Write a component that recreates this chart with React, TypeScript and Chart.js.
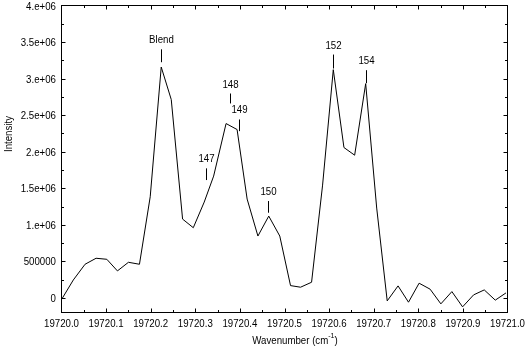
import React, { useEffect, useRef } from "react";
import { Chart, registerables } from "chart.js";

Chart.register(...registerables);

// Spectrum samples
const wavenumbers = [
  19720.0018, 19720.0265, 19720.0528, 19720.0775, 19720.1016, 19720.1254, 19720.1501,
  19720.1748, 19720.1989, 19720.2236, 19720.2461, 19720.2715, 19720.2955, 19720.32,
  19720.3411, 19720.369, 19720.3937, 19720.4162, 19720.4404, 19720.4647, 19720.4894,
  19720.5135, 19720.536, 19720.5607, 19720.5854, 19720.6094, 19720.6333, 19720.6573,
  19720.682, 19720.7067, 19720.7303, 19720.7546, 19720.778, 19720.8018, 19720.8265,
  19720.8506, 19720.8753, 19720.8993, 19720.924, 19720.9479, 19720.9726, 19720.9966,
];
const intensities = [
  -5000, 245000, 460000, 542000, 528000, 369000, 487000,
  460000, 1383000, 3158000, 2713000, 1078000, 960000, 1311000,
  1666000, 2385000, 2303000, 1352000, 846000, 1119000, 846000,
  168000, 146000, 214000, 1543000, 3122000, 2057000, 1952000,
  2931000, 1229000, -41000, 164000, -59000, 201000, 119000,
  -82000, 86000, -123000, 41000, 109000, -31000, 68000,
];

const xTickValues = [
  19720.0, 19720.1, 19720.2, 19720.3, 19720.4, 19720.5, 19720.6, 19720.7, 19720.8, 19720.9, 19721.0,
];
const xTickLabels = [
  "19720.0", "19720.1", "19720.2", "19720.3", "19720.4", "19720.5", "19720.6", "19720.7", "19720.8", "19720.9", "19721.0",
];
const yTickValues = [0, 500000, 1000000, 1500000, 2000000, 2500000, 3000000, 3500000, 4000000];
const yTickLabels = ["0", "500000", "1.e+06", "1.5e+06", "2.e+06", "2.5e+06", "3.e+06", "3.5e+06", "4.e+06"];

// Peak annotations (x in cm^-1, marker top/bottom in intensity units)
const peakLabels = ["Blend", "147", "148", "149", "150", "152", "154"];
const peakX = [19720.2231, 19720.324, 19720.3785, 19720.398, 19720.4637, 19720.6081, 19720.6827];
const peakTickTop = [3401000, 1772000, 2796000, 2441000, 1325000, 3329000, 3115000];
const peakTickBottom = [3224000, 1612000, 2660000, 2281000, 1165000, 3138000, 2937000];

const X_MIN = 19720.0;
const X_MAX = 19721.0;
const Y_MIN = -200000;
const Y_MAX = 4000000;

const FONT_FAMILY = '"Liberation Sans", Arial, sans-serif';
const NARROW = 0.88;

function narrowText(
  ctx: CanvasRenderingContext2D,
  text: string,
  x: number,
  y: number,
  align: CanvasTextAlign,
  size = 11,
  baseline: CanvasTextBaseline = "alphabetic"
) {
  ctx.save();
  ctx.translate(x, y);
  ctx.scale(NARROW, 1);
  ctx.font = `${size}px ${FONT_FAMILY}`;
  ctx.textAlign = align;
  ctx.textBaseline = baseline;
  ctx.fillText(text, 0, 0);
  ctx.restore();
}

const decorPlugin = {
  id: "decor",
  afterDraw(chart: any) {
    const ctx = chart.ctx as CanvasRenderingContext2D;
    const { left, right, top, bottom } = chart.chartArea;
    const xs = chart.scales.x;
    const ys = chart.scales.y;
    ctx.save();
    ctx.strokeStyle = "#000";
    ctx.fillStyle = "#000";
    ctx.lineWidth = 1;
    ctx.strokeRect(left, top, right - left, bottom - top);

    // inward ticks on all four sides
    ctx.beginPath();
    for (let i = 1; i < 20; i++) {
      const v = X_MIN + i * 0.05;
      const px = Math.round(xs.getPixelForValue(v)) + 0.5;
      const len = i % 2 === 0 ? 4 : 2.5;
      ctx.moveTo(px, bottom);
      ctx.lineTo(px, bottom - len);
      ctx.moveTo(px, top);
      ctx.lineTo(px, top + len);
    }
    for (let i = 0; i <= 16; i++) {
      const v = i * 250000;
      const py = Math.round(ys.getPixelForValue(v)) + 0.5;
      if (py <= top + 1) continue;
      const len = i % 2 === 0 ? 4 : 2.5;
      ctx.moveTo(left, py);
      ctx.lineTo(left + len, py);
      ctx.moveTo(right, py);
      ctx.lineTo(right - len, py);
    }
    ctx.stroke();

    // tick labels
    for (let i = 0; i < xTickValues.length; i++) {
      const px = xs.getPixelForValue(xTickValues[i]);
      narrowText(ctx, xTickLabels[i], px, bottom + 14.5, "center");
    }
    for (let i = 0; i < yTickValues.length; i++) {
      const py = ys.getPixelForValue(yTickValues[i]);
      narrowText(ctx, yTickLabels[i], left - 5.5, py + 4, "right");
    }

    // peak markers
    ctx.beginPath();
    for (let i = 0; i < peakLabels.length; i++) {
      const px = Math.round(xs.getPixelForValue(peakX[i])) + 0.5;
      const yt = ys.getPixelForValue(peakTickTop[i]);
      const yb = ys.getPixelForValue(peakTickBottom[i]);
      ctx.moveTo(px, yt);
      ctx.lineTo(px, yb);
      narrowText(ctx, peakLabels[i], px, yt - 6, "center");
    }
    ctx.stroke();

    // y title
    ctx.save();
    ctx.translate(12, 134);
    ctx.rotate(-Math.PI / 2);
    narrowText(ctx, "Intensity", 0, 0, "center");
    ctx.restore();

    // x title with superscript
    const main = "Wavenumber (cm";
    const sup = "-1";
    const tail = ")";
    ctx.font = `11px ${FONT_FAMILY}`;
    const w1 = ctx.measureText(main).width * NARROW;
    const w3 = ctx.measureText(tail).width * NARROW;
    ctx.font = `8px ${FONT_FAMILY}`;
    const w2 = ctx.measureText(sup).width * NARROW;
    const total = w1 + w2 + w3;
    const x0 = 295 - total / 2;
    const yBase = 344;
    narrowText(ctx, main, x0, yBase, "left");
    narrowText(ctx, sup, x0 + w1, yBase - 6, "left", 8);
    narrowText(ctx, tail, x0 + w1 + w2, yBase, "left");
    ctx.restore();
  },
};

export default function App() {
  const canvasRef = useRef<HTMLCanvasElement | null>(null);

  useEffect(() => {
    if (!canvasRef.current) return;
    const data = wavenumbers.map((x, i) => ({ x, y: intensities[i] }));
    const chart = new Chart(canvasRef.current, {
      type: "line",
      data: {
        datasets: [
          {
            data,
            borderColor: "#000",
            borderWidth: 1,
            pointRadius: 0,
            tension: 0,
            fill: false,
          },
        ],
      },
      options: {
        animation: false,
        responsive: false,
        maintainAspectRatio: false,
        layout: { padding: { top: 5.5, right: 17.5, left: 0, bottom: 0 } },
        plugins: { legend: { display: false }, tooltip: { enabled: false }, title: { display: false } },
        scales: {
          x: {
            type: "linear",
            min: X_MIN,
            max: X_MAX,
            grid: { display: false, drawTicks: false },
            border: { display: false },
            afterBuildTicks: (scale: any) => {
              scale.ticks = xTickValues.map((v) => ({ value: v }));
            },
            afterFit: (scale: any) => {
              scale.height = 37.5;
              scale.paddingLeft = 0;
              scale.paddingRight = 0;
            },
            ticks: { display: false },
          },
          y: {
            type: "linear",
            min: Y_MIN,
            max: Y_MAX,
            grid: { display: false, drawTicks: false },
            border: { display: false },
            afterBuildTicks: (scale: any) => {
              scale.ticks = yTickValues.map((v) => ({ value: v }));
            },
            afterFit: (scale: any) => {
              scale.width = 61.5;
              scale.paddingTop = 0;
              scale.paddingBottom = 0;
            },
            ticks: { display: false },
          },
        },
      },
      plugins: [decorPlugin],
    } as any);
    return () => chart.destroy();
  }, []);

  return (
    <div style={{ position: "fixed", left: 0, top: 0, width: 525, height: 350, background: "#fff" }}>
      <canvas ref={canvasRef} width={525} height={350} style={{ display: "block", width: 525, height: 350 }} />
    </div>
  );
}
